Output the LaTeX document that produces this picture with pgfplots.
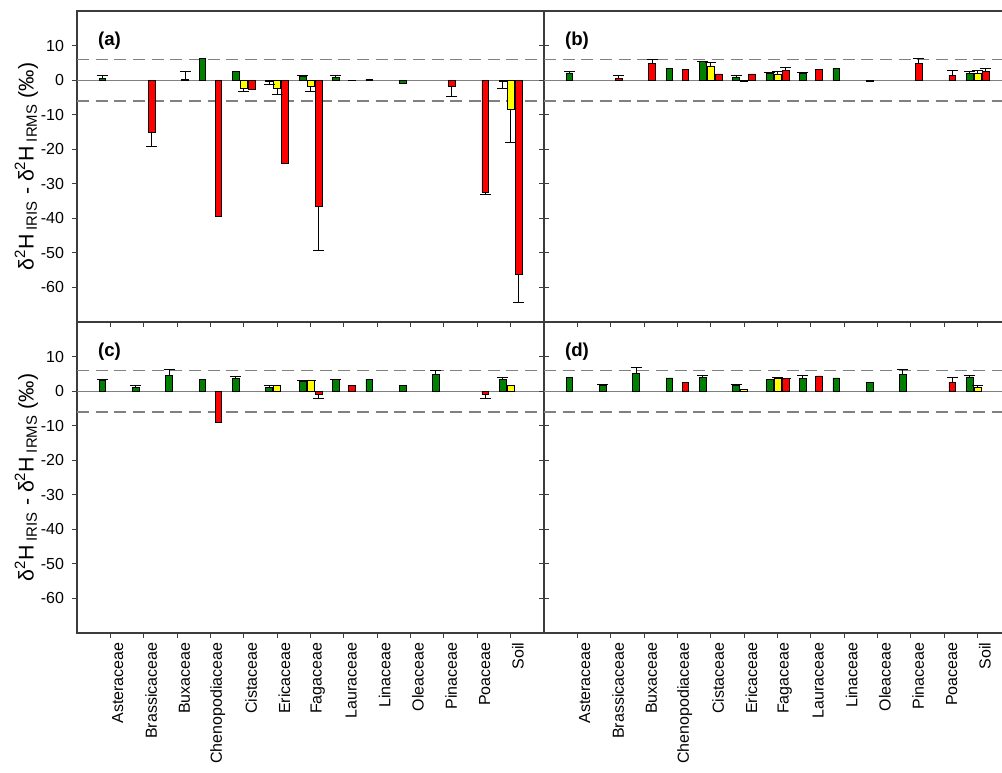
\documentclass[border=0pt]{standalone}
\usepackage{fontspec}
\setmainfont{Liberation Sans}
\usepackage{pgfplots}
\pgfplotsset{compat=1.18}
\usepackage{pgfplotstable}

\definecolor{bargreen}{RGB}{0,128,0}
\definecolor{baryellow}{RGB}{255,255,0}
\definecolor{barred}{RGB}{255,0,0}
\definecolor{refgray}{RGB}{128,128,128}
\definecolor{axisgray}{RGB}{60,60,60}

% ---------- panel (a) ----------
\pgfplotstableread{
x y
1 0.6
4 6.2
5 2.5
6 -0.4
7 1.0
8 0.7
9 0.3
10 -1.0
13 -0.3
}\aGreen
\pgfplotstableread{
x y
5 -2.5
6 -2.3
7 -1.9
13 -8.4
}\aYellow
\pgfplotstableread{
x y
2 -15.0
3 0.1
4 -39.4
5 -2.8
6 -24.0
7 -36.5
8 -0.2
11 -1.8
12 -32.4
13 -56.1
}\aRed
\pgfplotstableread{
x y e
0.76 0.6 0.75
3.24 0.1 2.3
6.76 1.0 0.3
7.76 0.7 0.65
}\aErrUp
\pgfplotstableread{
x y e
2.24 -15.0 4.1
5.00 -2.5 0.7
5.76 -0.4 0.8
6.00 -2.3 1.8
7.00 -1.9 1.5
7.24 -36.5 12.7
11.24 -1.8 3.0
12.24 -32.4 0.6
12.76 -0.3 2.2
13.00 -8.4 9.7
13.24 -56.1 8.4
}\aErrDown

% ---------- panel (b) ----------
\pgfplotstableread{
x y
1 2.1
4 3.3
5 5.3
6 0.7
7 1.9
8 1.9
9 3.4
10 -0.3
13 1.9
}\bGreen
\pgfplotstableread{
x y
5 4.1
6 -0.4
7 1.75
13 1.9
}\bYellow
\pgfplotstableread{
x y
2 0.5
3 4.8
4 3.1
5 1.8
6 1.8
7 2.8
8 3.1
11 4.8
12 1.35
13 2.5
}\bRed
\pgfplotstableread{
x y e
0.76 2.1 0.4
2.24 0.5 0.85
3.24 4.8 1.1
4.76 5.3 0.2
5.00 4.1 0.9
5.76 0.7 0.75
6.76 1.9 0.3
7.00 1.75 0.85
7.24 2.8 0.8
7.76 1.9 0.2
11.24 4.8 1.4
12.24 1.35 1.45
12.76 1.9 0.6
13.00 1.9 0.8
13.24 2.5 1.0
}\bErrUp

% ---------- panel (c) ----------
\pgfplotstableread{
x y
1 3.2
2 1.0
3 4.65
4 3.4
5 3.6
6 1.15
7 2.9
8 3.3
9 3.5
10 1.75
11 4.75
13 3.3
}\cGreen
\pgfplotstableread{
x y
6 1.55
7 3.0
13 1.65
}\cYellow
\pgfplotstableread{
x y
4 -9.0
7 -0.8
8 1.75
12 -0.8
}\cRed
\pgfplotstableread{
x y e
0.76 3.2 0.1
1.76 1.0 0.55
2.76 4.65 1.55
4.76 3.6 0.5
5.76 1.15 0.4
6.76 2.9 0.15
7.00 3.0 0.2
7.76 3.3 0.1
10.76 4.75 1.35
12.76 3.3 0.5
}\cErrUp
\pgfplotstableread{
x y e
7.24 -0.8 1.4
12.24 -0.8 1.3
}\cErrDown

% ---------- panel (d) ----------
\pgfplotstableread{
x y
1 4.0
2 1.55
3 5.05
4 3.8
5 4.0
6 1.65
7 3.4
8 3.7
9 3.8
10 2.6
11 4.95
13 4.1
}\dGreen
\pgfplotstableread{
x y
6 0.5
7 3.6
13 1.15
}\dYellow
\pgfplotstableread{
x y
4 2.4
7 3.6
8 4.4
12 2.6
}\dRed
\pgfplotstableread{
x y e
1.76 1.55 0.5
2.76 5.05 1.8
4.76 4.0 0.45
5.76 1.65 0.15
7.00 3.6 0.3
7.24 3.6 0.1
7.76 3.7 0.95
10.76 4.95 1.35
12.24 2.6 1.2
12.76 4.1 0.55
13.00 1.15 0.5
}\dErrUp

\tikzset{plabel/.style={anchor=west, font=\bfseries\fontsize{14}{16}\selectfont}}

\pgfplotsset{
  panel/.style={
    scale only axis, width=350.25pt, height=233.25pt,
    xmin=0, xmax=14, ymin=-70, ymax=20,
    xtick={1,...,13}, ytick={-60,-50,...,10},
    xtick pos=left, ytick pos=left,
    tick align=outside, major tick length=3.75pt,
    axis line style={axisgray, line width=0.8pt},
    tick style={axisgray, line width=0.8pt},
    /pgf/number format/assume math mode=true,
    tick label style={font=\fontsize{12}{14}\selectfont},
    yticklabel style={xshift=-2.5pt},
    xticklabels={},
  },
  leftpanel/.style={
    ytick pos=both, yticklabel pos=left,
    ylabel={δ\textsuperscript{2}H\,\textsubscript{IRIS} - δ\textsuperscript{2}H\,\textsubscript{IRMS} (‰)},
    every axis y label/.style={at={(rel axis cs:0,0.5)}, xshift=-38pt, rotate=90, anchor=center,
      font=\fontsize{16}{18}\selectfont},
  },
  rightpanel/.style={yticklabels={}},
  catlabels/.style={
    xticklabels={Asteraceae,Brassicaceae,Buxaceae,Chenopodiaceae,Cistaceae,Ericaceae,Fagaceae,Lauraceae,Linaceae,Oleaceae,Pinaceae,Poaceae,Soil},
    xticklabel style={rotate=90, anchor=east, font=\fontsize{12}{14}\selectfont, yshift=-5.5pt},
  },
  gbar/.style={ybar, bar width=0.2, bar shift=-0.24, fill=bargreen, draw=black, line width=0.5pt},
  ybarst/.style={ybar, bar width=0.2, bar shift=0, fill=baryellow, draw=black, line width=0.5pt},
  rbar/.style={ybar, bar width=0.2, bar shift=0.24, fill=barred, draw=black, line width=0.5pt},
  errbase/.style={draw=none, mark=none, forget plot,
    error bars/error mark=-,
    error bars/error bar style={draw=black, line width=0.75pt},
    error bars/error mark options={draw=black, line width=0.75pt, mark size=4.1pt, rotate=90}},
  errup/.style={errbase, error bars/y dir=plus, error bars/y explicit},
  errdown/.style={errbase, error bars/y dir=minus, error bars/y explicit},
  dashref/.style={refgray, line width=1.1pt, dash pattern=on 9pt off 5pt, forget plot},
  zeroref/.style={refgray, line width=0.8pt, forget plot},
}

\newcommand{\reflines}{%
  \addplot[dashref] coordinates {(0,6) (14,6)};
  \addplot[dashref] coordinates {(0,-6) (14,-6)};
  \addplot[zeroref] coordinates {(0,0) (14,0)};
}

\begin{document}
\begin{tikzpicture}
\path[use as bounding box] (0pt,0pt) rectangle (751.5pt,-579.75pt);
\clip (0pt,0pt) rectangle (751.5pt,-579.75pt);

% (a)
\begin{axis}[panel, leftpanel, at={(57.75pt,-8.25pt)}, anchor=north west]
\reflines
\addplot[gbar] table[x=x,y=y] {\aGreen};
\addplot[ybarst] table[x=x,y=y] {\aYellow};
\addplot[rbar] table[x=x,y=y] {\aRed};
\addplot[errup] table[x=x,y=y,y error=e] {\aErrUp};
\addplot[errdown] table[x=x,y=y,y error=e] {\aErrDown};
\node[plabel] at (rel axis cs:0.035,0.905) {(a)};
\end{axis}

% (b)
\begin{axis}[panel, rightpanel, at={(408pt,-8.25pt)}, anchor=north west]
\reflines
\addplot[gbar] table[x=x,y=y] {\bGreen};
\addplot[ybarst] table[x=x,y=y] {\bYellow};
\addplot[rbar] table[x=x,y=y] {\bRed};
\addplot[errup] table[x=x,y=y,y error=e] {\bErrUp};
\node[plabel] at (rel axis cs:0.035,0.905) {(b)};
\end{axis}

% (c)
\begin{axis}[panel, leftpanel, catlabels, at={(57.75pt,-241.5pt)}, anchor=north west]
\reflines
\addplot[gbar] table[x=x,y=y] {\cGreen};
\addplot[ybarst] table[x=x,y=y] {\cYellow};
\addplot[rbar] table[x=x,y=y] {\cRed};
\addplot[errup] table[x=x,y=y,y error=e] {\cErrUp};
\addplot[errdown] table[x=x,y=y,y error=e] {\cErrDown};
\node[plabel] at (rel axis cs:0.035,0.905) {(c)};
\end{axis}

% (d)
\begin{axis}[panel, rightpanel, catlabels, at={(408pt,-241.5pt)}, anchor=north west]
\reflines
\addplot[gbar] table[x=x,y=y] {\dGreen};
\addplot[ybarst] table[x=x,y=y] {\dYellow};
\addplot[rbar] table[x=x,y=y] {\dRed};
\addplot[errup] table[x=x,y=y,y error=e] {\dErrUp};
\node[plabel] at (rel axis cs:0.035,0.905) {(d)};
\end{axis}
\end{tikzpicture}
\end{document}
